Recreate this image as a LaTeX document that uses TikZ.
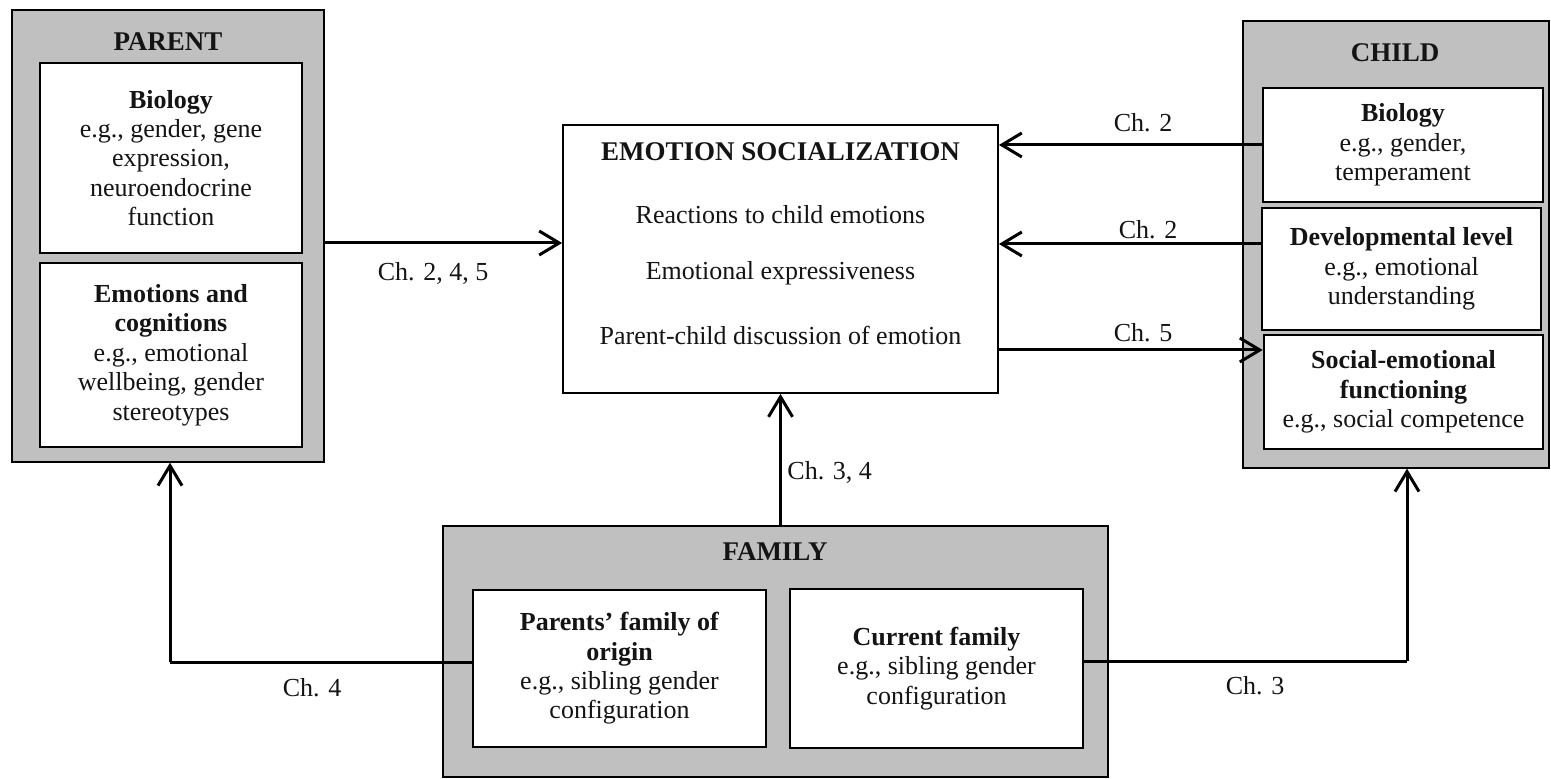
\documentclass[tikz,border=0pt]{standalone}
\usepackage{fontspec}
\setmainfont{Liberation Serif}
\usetikzlibrary{arrows.meta}
\definecolor{boxgray}{RGB}{192,192,192}
\definecolor{inkc}{RGB}{20,20,20}
\begin{document}
\begin{tikzpicture}[x=0.5pt,y=-0.5pt,
  outer/.style={draw=black, fill=boxgray, line width=0.7pt, inner sep=0pt},
  inner/.style={draw=black, fill=white, line width=1.3pt, align=center, inner sep=2pt,
    font=\fontsize{13}{14.7}\selectfont, text=inkc},
  ttl/.style={font=\fontsize{13.5}{15}\selectfont\bfseries, text=inkc},
  lbl/.style={font=\fontsize{13}{15}\selectfont, text=inkc, inner sep=0pt},
  conn/.style={draw=black, line width=1.5pt, -{Straight Barb[length=10pt,width=12pt,line width=1.5pt]}},
  plain/.style={draw=black, line width=1.5pt},
]
\useasboundingbox (0,0) rectangle (1551,779);

% outer group boxes
\node[outer, minimum width=156pt, minimum height=226pt] (parent) at (168,236) {};
\node[outer, minimum width=153pt, minimum height=223.5pt] (child) at (1396,244.5) {};
\node[outer, minimum width=332.5pt, minimum height=125.5pt] (family) at (775.5,651.5) {};

\node[ttl] (parentT) at (168,42) {PARENT};
\node[ttl] (childT) at (1395,53) {CHILD};
\node[ttl] (familyT) at (775,552) {FAMILY};

% parent inner boxes
\node[inner, minimum width=131pt, minimum height=95pt] (pbio) at (171,158)
  {\textbf{Biology}\\e.g., gender, gene\\expression,\\neuroendocrine\\function};
\node[inner, minimum width=131pt, minimum height=92pt] (pemo) at (171,355)
  {\textbf{Emotions and}\\\textbf{cognitions}\\e.g., emotional\\wellbeing, gender\\stereotypes};

% child inner boxes
\node[inner, minimum width=140pt, minimum height=57pt] (cbio) at (1403,145)
  {\textbf{Biology}\\e.g., gender,\\temperament};
\node[inner, minimum width=139.5pt, minimum height=61pt] (cdev) at (1401.5,269)
  {\textbf{Developmental level}\\e.g., emotional\\understanding};
\node[inner, minimum width=139.5pt, minimum height=57pt] (csoc) at (1403.5,392)
  {\textbf{Social-emotional}\\\textbf{functioning}\\e.g., social competence};

% family inner boxes
\node[inner, minimum width=146.5pt, minimum height=78.5pt] (forig) at (619.5,668.5)
  {\textbf{Parents’ family of}\\\textbf{origin}\\e.g., sibling gender\\configuration};
\node[inner, minimum width=146.5pt, minimum height=79.5pt] (fcur) at (936.5,668.5)
  {\textbf{Current family}\\e.g., sibling gender\\configuration};

% central box
\node[draw=black, fill=white, line width=0.9pt, minimum width=217.5pt, minimum height=134pt] (es) at (780.5,259) {};
\node[ttl] (esT) at (780.5,152) {EMOTION SOCIALIZATION};
\node[lbl] (es1) at (780.5,215) {Reactions to child emotions};
\node[lbl] (es2) at (780.5,273) {Emotional expressiveness};
\node[lbl] (es3) at (780.5,335) {Parent-child discussion of emotion};

% helper coordinates for connector heights
\coordinate (yA) at (0,243);
\coordinate (yD) at (0,244);
\coordinate (yS) at (0,350);
\coordinate (c4) at (170,662);
\coordinate (c3) at (1407,661);

% connectors
\draw[conn] (parent.east |- yA) -- (es.west |- yA);
\draw[conn] (cbio.west) -- (cbio.west -| es.east);
\draw[conn] (cdev.west |- yD) -- (es.east |- yD);
\draw[conn] (es.east |- yS) -- (csoc.west |- yS);
\draw[conn] (family.north -| es.south) -- (es.south);
\draw[plain] (forig.west |- c4) -- (c4);
\draw[conn] (c4) -- (c4 |- parent.south);
\draw[plain] (fcur.east |- c3) -- (c3);
\draw[conn] (c3) -- (c3 |- child.south);

% labels
\node[lbl] (l1) at (433,273) {Ch. 2, 4, 5};
\node[lbl] (l2) at (1143,123) {Ch. 2};
\node[lbl] (l3) at (1148,230) {Ch. 2};
\node[lbl] (l4) at (1143,333) {Ch. 5};
\node[lbl, anchor=west] (l5) at (787,472) {Ch. 3, 4};
\node[lbl] (l6) at (312,688) {Ch. 4};
\node[lbl] (l7) at (1255,686) {Ch. 3};
\end{tikzpicture}
\end{document}
